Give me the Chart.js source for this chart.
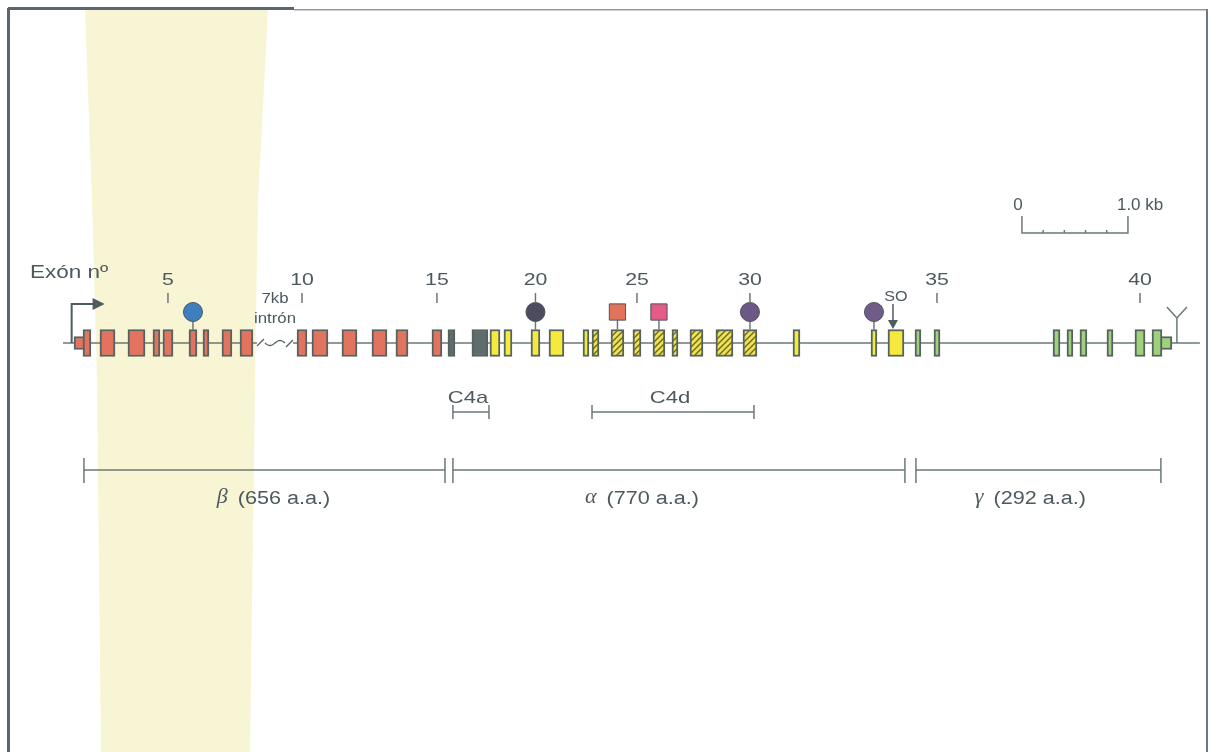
<!DOCTYPE html>
<html lang="es">
<head>
<meta charset="utf-8">
<title>Gen C4</title>
<script src="https://cdn.jsdelivr.net/npm/chart.js@4.4.1/dist/chart.umd.min.js"></script>
<style>
  html, body { margin: 0; padding: 0; background: #fff; }
  canvas { display: block; }
</style>
</head>
<body>
<canvas id="geneChart" width="1212" height="752"></canvas>
<script>
// Posiciones en kb sobre el esquema (el intrón de 7 kb está acortado)
const exonStart = [0.123, 0.283, 0.547, 0.783, 0.877, 1.123, 1.255, 1.434, 1.604, 2.142,
                   2.283, 2.566, 2.849, 3.075, 3.415, 3.566, 3.792, 3.962, 4.094, 4.349,
                   4.519, 4.840, 4.925, 5.104, 5.311, 5.500, 5.679, 5.849, 6.094, 6.349,
                   6.821, 7.557, 7.717, 7.972, 8.151, 9.274, 9.406, 9.528, 9.783, 10.047,
                   10.208];
const exonEnd = [0.198, 0.425, 0.708, 0.849, 0.972, 1.198, 1.311, 1.528, 1.726, 2.236,
                 2.434, 2.708, 2.991, 3.189, 3.509, 3.632, 3.943, 4.057, 4.170, 4.434,
                 4.660, 4.896, 4.991, 5.226, 5.387, 5.613, 5.736, 5.972, 6.255, 6.481,
                 6.887, 7.613, 7.868, 8.028, 8.208, 9.340, 9.462, 9.594, 9.840, 10.142,
                 10.302];
const exonKind = ['red', 'red', 'red', 'red', 'red', 'red', 'red', 'red', 'red', 'red',
                  'red', 'red', 'red', 'red', 'red', 'gray', 'gray', 'yellow', 'yellow', 'yellow',
                  'yellow', 'yellow', 'hatch', 'hatch', 'hatch', 'hatch', 'hatch', 'hatch', 'hatch', 'hatch',
                  'yellow', 'yellow', 'yellow', 'green', 'green', 'green', 'green', 'green', 'green', 'green',
                  'green'];

// Extremos no codificantes del primer y del último exón
const utrStart = [0.038, 10.28];
const utrEnd = [0.15, 10.396];
const utrKind = ['red', 'green'];

// Línea del gen, intrón interrumpido, inicio de transcripción y poliadenilación
const geneLine = [-0.066, 10.66];
const intronBreak = [1.764, 2.104];
const tssAt = 0.016;
const polyAAt = 10.443;

// Números de exón rotulados
const exonTicks = [5, 10, 15, 20, 25, 30, 35, 40];

// Marcas sobre los exones
const markerExon = [6, 20, 24, 26, 30, 32];
const markerShape = ['circle', 'circle', 'rect', 'rect', 'circle', 'circle'];
const markerColor = ['#3f7fc0', '#4d4b60', '#e0735a', '#e55b88', '#6c5884', '#715c89'];

// Sitio SO
const soExon = 33;

// Fragmentos C4a y C4d
const fragmentLabels = ['C4a', 'C4d'];
const fragmentStart = [3.613, 4.925];
const fragmentEnd = [3.953, 6.453];

// Cadenas de la proteína
const chainGreek = ['β', 'α', 'γ'];
const chainLabels = ['(656 a.a.)', '(770 a.a.)', '(292 a.a.)'];
const chainStart = [0.132, 3.613, 7.981];
const chainEnd = [3.538, 7.877, 10.292];

// Barra de escala
const scaleBarKb = 1.0;
const scaleBarStep = 0.2;

// ---- disposición y estilos ----
const GENE_Y = 343, EXON_H = 27, UTR_H = 13, MARK_Y = 312;
const LABEL_Y = 280, TICK_TOP = 293, TICK_BOTTOM = 303;
const FRAG_Y = 412, CHAIN_Y = 470, CHAIN_LABEL_Y = 499;
const SCALE_AT = 8.981, SCALE_Y = 233;
const chainLabelShift = [9, -37, -8];
const INK = '#4c595d';
const LINE = '#6c7878';
const OUTLINE = '#55625f';

const makeHatch = () => {
    const c = document.createElement('canvas');
    c.width = 6; c.height = 6;
    const g = c.getContext('2d');
    g.fillStyle = '#f0e44a';
    g.fillRect(0, 0, 6, 6);
    g.strokeStyle = '#6b6631';
    g.lineWidth = 1.4;
    g.beginPath();
    g.moveTo(0, 6); g.lineTo(6, 0);
    g.moveTo(-1, 1); g.lineTo(1, -1);
    g.moveTo(5, 7); g.lineTo(7, 5);
    g.stroke();
    return g.createPattern(c, 'repeat');
};

const fills = {
    red: '#e2745f',
    gray: '#5e6c6d',
    yellow: '#f5ea3c',
    green: '#9dd17a',
    hatch: makeHatch(),
};

const exonMid = n => (exonStart[n - 1] + exonEnd[n - 1]) / 2;

// texto con un ligero ensanchado horizontal, como en el original
const drawText = (ctx, str, x, y, font, sx, align) => {
    ctx.save();
    ctx.font = font;
    ctx.textBaseline = 'middle';
    ctx.textAlign = 'left';
    const w = ctx.measureText(str).width * sx;
    const left = align === 'center' ? x - w / 2 : (align === 'right' ? x - w : x);
    ctx.translate(left, y);
    ctx.scale(sx, 1);
    ctx.fillText(str, 0, 0);
    ctx.restore();
    return w;
};

const textWidth = (ctx, str, font, sx) => {
    ctx.save();
    ctx.font = font;
    const w = ctx.measureText(str).width * sx;
    ctx.restore();
    return w;
};

const line = (ctx, x1, y1, x2, y2) => {
    ctx.beginPath();
    ctx.moveTo(x1, y1);
    ctx.lineTo(x2, y2);
    ctx.stroke();
};

// Fondo: papel, franja amarillenta del escaneo y marco
const paperPlugin = {
    id: 'paper',
    beforeDraw(chart) {
        const ctx = chart.ctx;
        ctx.save();
        ctx.fillStyle = '#ffffff';
        ctx.fillRect(0, 0, chart.width, chart.height);
        ctx.fillStyle = '#f7f5d4';
        ctx.beginPath();
        ctx.moveTo(85, 10);
        ctx.lineTo(268, 10);
        ctx.lineTo(258, 200);
        ctx.lineTo(255, 380);
        ctx.lineTo(250, 752);
        ctx.lineTo(101, 752);
        ctx.lineTo(97, 380);
        ctx.lineTo(92, 200);
        ctx.closePath();
        ctx.fill();
        ctx.fillStyle = '#5b6670';
        ctx.fillRect(7, 8, 3, 744);
        ctx.fillRect(8, 7, 286, 3);
        ctx.fillStyle = '#8f9ba2';
        ctx.fillRect(294, 9, 914, 1.5);
        ctx.fillStyle = '#6d7880';
        ctx.fillRect(1206, 9, 2, 743);
        ctx.restore();
    },
    beforeDatasetsDraw(chart) {
        // tallos de las marcas
        const ctx = chart.ctx;
        const x = chart.scales.x;
        const y = chart.scales.y;
        ctx.save();
        ctx.strokeStyle = LINE;
        ctx.lineWidth = 1.5;
        markerExon.forEach(n => {
            const px = x.getPixelForValue(exonMid(n));
            line(ctx, px, y.getPixelForValue(MARK_Y), px, y.getPixelForValue(GENE_Y - EXON_H / 2));
        });
        ctx.restore();
    },
};

// Rótulos y anotaciones
const annotationPlugin = {
    id: 'annotations',
    afterDatasetsDraw(chart) {
        const ctx = chart.ctx;
        const x = chart.scales.x;
        const X = v => x.getPixelForValue(v);
        ctx.save();
        ctx.fillStyle = INK;
        ctx.strokeStyle = LINE;
        ctx.lineWidth = 1.5;

        // Números de exón
        drawText(ctx, 'Exón nº', 30, LABEL_Y - 7, '18px "Liberation Sans", Arial, sans-serif', 1.25, 'left');
        exonTicks.forEach(n => {
            const px = X(exonMid(n));
            drawText(ctx, String(n), px, LABEL_Y, '17px "Liberation Sans", Arial, sans-serif', 1.25, 'center');
            line(ctx, px, TICK_TOP, px, TICK_BOTTOM);
        });

        // Intrón de 7 kb
        const b0 = X(intronBreak[0]), b1 = X(intronBreak[1]);
        const mid = (b0 + b1) / 2;
        drawText(ctx, '7kb', mid, 299, '14px "Liberation Sans", Arial, sans-serif', 1.2, 'center');
        drawText(ctx, 'intrón', mid, 319, '14px "Liberation Sans", Arial, sans-serif', 1.2, 'center');
        ctx.strokeStyle = OUTLINE;
        ctx.lineWidth = 1.3;
        line(ctx, b0, GENE_Y + 3, b0 + 7, GENE_Y - 4);
        ctx.beginPath();
        for (let i = 0; i <= 20; i++) {
            const px = b0 + 8 + (b1 - b0 - 16) * i / 20;
            const py = GENE_Y + 2.5 * Math.sin(i / 20 * Math.PI * 2);
            if (i === 0) ctx.moveTo(px, py); else ctx.lineTo(px, py);
        }
        ctx.stroke();
        line(ctx, b1 - 7, GENE_Y + 4, b1, GENE_Y - 3);

        // Inicio de transcripción
        ctx.strokeStyle = '#4f5b5e';
        ctx.fillStyle = '#4f5b5e';
        ctx.lineWidth = 2;
        const t = X(tssAt);
        ctx.beginPath();
        ctx.moveTo(t, GENE_Y);
        ctx.lineTo(t, 304);
        ctx.lineTo(t + 22, 304);
        ctx.stroke();
        ctx.beginPath();
        ctx.moveTo(t + 21, 298);
        ctx.lineTo(t + 33, 304);
        ctx.lineTo(t + 21, 310);
        ctx.closePath();
        ctx.fill();

        // Sitio de poliadenilación
        ctx.strokeStyle = LINE;
        ctx.lineWidth = 1.5;
        const p = X(polyAAt);
        ctx.beginPath();
        ctx.moveTo(p, GENE_Y);
        ctx.lineTo(p, 318);
        ctx.lineTo(p - 10, 307);
        ctx.moveTo(p, 318);
        ctx.lineTo(p + 10, 307);
        ctx.stroke();

        // SO
        const so = X(exonMid(soExon)) - 3;
        ctx.fillStyle = INK;
        drawText(ctx, 'SO', so + 3, 297, '14px "Liberation Sans", Arial, sans-serif', 1.15, 'center');
        ctx.strokeStyle = '#4f5b5e';
        ctx.fillStyle = '#4f5b5e';
        line(ctx, so, 304, so, 322);
        ctx.beginPath();
        ctx.moveTo(so - 5, 320);
        ctx.lineTo(so + 5, 320);
        ctx.lineTo(so, 329);
        ctx.closePath();
        ctx.fill();

        // Barra de escala
        ctx.strokeStyle = LINE;
        ctx.fillStyle = INK;
        ctx.lineWidth = 1.5;
        const s0 = X(SCALE_AT), s1 = X(SCALE_AT + scaleBarKb);
        ctx.beginPath();
        ctx.moveTo(s0, 216);
        ctx.lineTo(s0, SCALE_Y);
        ctx.lineTo(s1, SCALE_Y);
        ctx.lineTo(s1, 216);
        ctx.stroke();
        for (let k = scaleBarStep; k < scaleBarKb - 1e-6; k += scaleBarStep) {
            const px = X(SCALE_AT + k);
            line(ctx, px, SCALE_Y - 3, px, SCALE_Y);
        }
        drawText(ctx, '0', s0 - 4, 205, '17px "Liberation Sans", Arial, sans-serif', 1.0, 'center');
        drawText(ctx, scaleBarKb.toFixed(1) + ' kb', s1 - 11, 205, '17px "Liberation Sans", Arial, sans-serif', 1.0, 'left');

        // Fragmentos C4a y C4d
        fragmentLabels.forEach((lab, i) => {
            const a = X(fragmentStart[i]), e = X(fragmentEnd[i]);
            line(ctx, a, FRAG_Y, e, FRAG_Y);
            line(ctx, a, FRAG_Y - 7, a, FRAG_Y + 7);
            line(ctx, e, FRAG_Y - 7, e, FRAG_Y + 7);
            drawText(ctx, lab, (a + e) / 2 - 3, FRAG_Y - 14, '17px "Liberation Sans", Arial, sans-serif', 1.3, 'center');
        });

        // Cadenas beta, alfa y gamma
        const greekFont = 'italic 20px "Liberation Serif", "DejaVu Serif", serif';
        const sansFont = '18px "Liberation Sans", Arial, sans-serif';
        chainLabels.forEach((lab, i) => {
            const a = X(chainStart[i]), e = X(chainEnd[i]);
            line(ctx, a, CHAIN_Y, e, CHAIN_Y);
            line(ctx, a, CHAIN_Y - 12, a, CHAIN_Y + 13);
            line(ctx, e, CHAIN_Y - 12, e, CHAIN_Y + 13);
            const gw = textWidth(ctx, chainGreek[i], greekFont, 1.1) + 10;
            const lw = textWidth(ctx, lab, sansFont, 1.2);
            const left = (a + e) / 2 + chainLabelShift[i] - (gw + lw) / 2;
            drawText(ctx, chainGreek[i], left, CHAIN_LABEL_Y - 1, greekFont, 1.1, 'left');
            drawText(ctx, lab, left + gw, CHAIN_LABEL_Y, sansFont, 1.2, 'left');
        });

        ctx.restore();
    },
};

const exonData = exonStart.map((s, i) => ({ x: [s, exonEnd[i]], y: GENE_Y }));
const utrData = utrStart.map((s, i) => ({ x: [s, utrEnd[i]], y: GENE_Y }));
const markerData = markerExon.map(n => ({ x: exonMid(n), y: MARK_Y }));
const lineData = [
    { x: geneLine[0], y: GENE_Y },
    { x: intronBreak[0], y: GENE_Y },
    { x: (intronBreak[0] + intronBreak[1]) / 2, y: null },
    { x: intronBreak[1], y: GENE_Y },
    { x: geneLine[1], y: GENE_Y },
];

const chart = new Chart(document.getElementById('geneChart'), {
    type: 'bar',
    data: {
        datasets: [
            {
                type: 'scatter',
                label: 'Marcas',
                data: markerData,
                pointStyle: markerShape,
                pointRadius: markerShape.map(s => s === 'rect' ? 11.5 : 9.5),
                pointBackgroundColor: markerColor,
                pointBorderColor: '#4a5560',
                pointBorderWidth: 1,
                order: 0,
            },
            {
                type: 'bar',
                label: 'Exones',
                indexAxis: 'y',
                data: exonData,
                backgroundColor: exonKind.map(k => fills[k]),
                borderColor: OUTLINE,
                borderWidth: 2,
                borderSkipped: false,
                grouped: false,
                barThickness: EXON_H,
                order: 1,
            },
            {
                type: 'bar',
                label: 'UTR',
                indexAxis: 'y',
                data: utrData,
                backgroundColor: utrKind.map(k => fills[k]),
                borderColor: OUTLINE,
                borderWidth: 2,
                borderSkipped: false,
                grouped: false,
                barThickness: UTR_H,
                order: 2,
            },
            {
                type: 'line',
                label: 'Gen',
                data: lineData,
                borderColor: LINE,
                borderWidth: 1.6,
                pointRadius: 0,
                spanGaps: false,
                order: 3,
            },
        ],
    },
    options: {
        responsive: false,
        maintainAspectRatio: false,
        devicePixelRatio: 1,
        animation: false,
        layout: { padding: 0, autoPadding: false },
        scales: {
            x: { type: 'linear', min: -0.66, max: 10.774, offset: false, bounds: 'data', grace: 0, display: false },
            y: { type: 'linear', min: 0, max: 752, reverse: true, offset: false, bounds: 'data', grace: 0, display: false },
        },
        plugins: {
            legend: { display: false },
            tooltip: { enabled: false },
        },
    },
    plugins: [paperPlugin, annotationPlugin],
});
</script>
</body>
</html>
